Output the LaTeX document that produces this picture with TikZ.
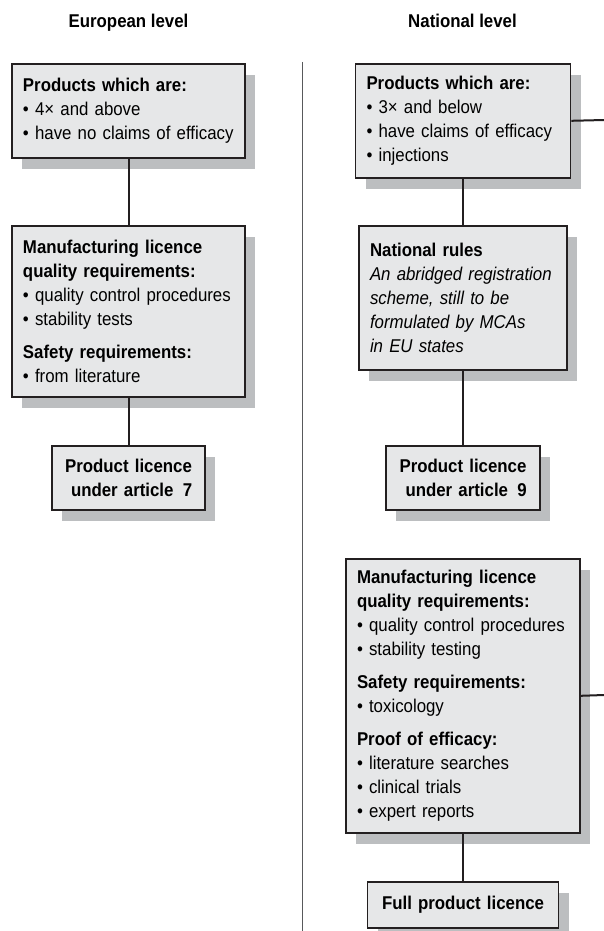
\documentclass[tikz,border=0pt]{standalone}
\usepackage{fontspec}
\setmainfont{Liberation Sans}[FakeStretch=0.91]
\usepackage{tikz}
\usetikzlibrary{shadows}
\definecolor{boxfill}{HTML}{E6E7E8}
\definecolor{shadegrey}{HTML}{BCBEC0}
\definecolor{inkline}{HTML}{231F20}
\definecolor{divgrey}{HTML}{58595B}

\begin{document}
\begin{tikzpicture}
[x=1pt,y=-1pt,every node/.style={font=\fontsize{18.5}{24}\selectfont},
 box/.style={draw=inkline,line width=1.6pt,fill=boxfill,anchor=north,inner xsep=11pt,inner ysep=0pt,align=left,
  drop shadow={shadow xshift=10pt,shadow yshift=-11pt,fill=shadegrey,opacity=1}},
 head/.style={anchor=base,font=\fontsize{18.5}{24}\selectfont\bfseries},
 link/.style={draw=inkline,line width=2pt}]
\useasboundingbox (0,0) rectangle (604,931);
\node[head] (t1) at (128.5,28) {European level};
\node[head] (t2) at (462.5,28) {National level};
\coordinate (d1) at (302.5,62);
\coordinate (d2) at (302.5,931);
\draw[divgrey,line width=1.5pt] (d1) -- (d2);
% european side
\node[box,text width=211pt,minimum height=94pt] (e1) at (128.5,63)
 {\textbf{Products which are:}\\• 4× and above\\• have no claims of efficacy};
\node[box,text width=211pt,minimum height=171pt] (e2) at (128.5,225)
 {\textbf{Manufacturing licence}\\\textbf{quality requirements:}\\• quality control procedures\\• stability tests\\[9pt]\textbf{Safety requirements:}\\• from literature};
\node[box,align=center,text width=131pt,minimum height=64pt] (e3) at (128.5,445)
 {\textbf{Product licence}\\\textbf{\ under article\enspace 7}};
% national side
\node[box,text width=193pt,minimum height=114pt] (n1) at (463,63)
 {\textbf{Products which are:}\\• 3× and below\\• have claims of efficacy\\• injections};
\node[box,text width=186pt,minimum height=144pt] (n2) at (463,225)
 {\textbf{National rules}\\\textit{An abridged registration}\\\textit{scheme, still to be}\\\textit{formulated by MCAs}\\\textit{in EU states}};
\node[box,align=center,text width=132pt,minimum height=64pt] (n3) at (463,445)
 {\textbf{Product licence}\\\textbf{\ under article\enspace 9}};
\node[box,text width=212pt,minimum height=274pt] (n4) at (463,558)
 {\textbf{Manufacturing licence}\\\textbf{quality requirements:}\\• quality control procedures\\• stability testing\\[9pt]\textbf{Safety requirements:}\\• toxicology\\[9pt]\textbf{Proof of efficacy:}\\• literature searches\\• clinical trials\\• expert reports};
\node[box,align=center,text width=169pt,minimum height=46pt] (n5) at (463,881)
 {\textbf{Full product licence}};
\coordinate (r1) at (604,120);
\coordinate (r2) at (604,695);
\draw[link] (e1.south) -- (e2.north);
\draw[link] (e2.south) -- (e3.north);
\draw[link] (n1.south) -- (n2.north);
\draw[link] (n2.south) -- (n3.north);
\draw[link] (n4.south) -- (n5.north);
\draw[link] (n1.east) -- (r1);
\draw[link] (n4.east) -- (r2);
\end{tikzpicture}
\end{document}
